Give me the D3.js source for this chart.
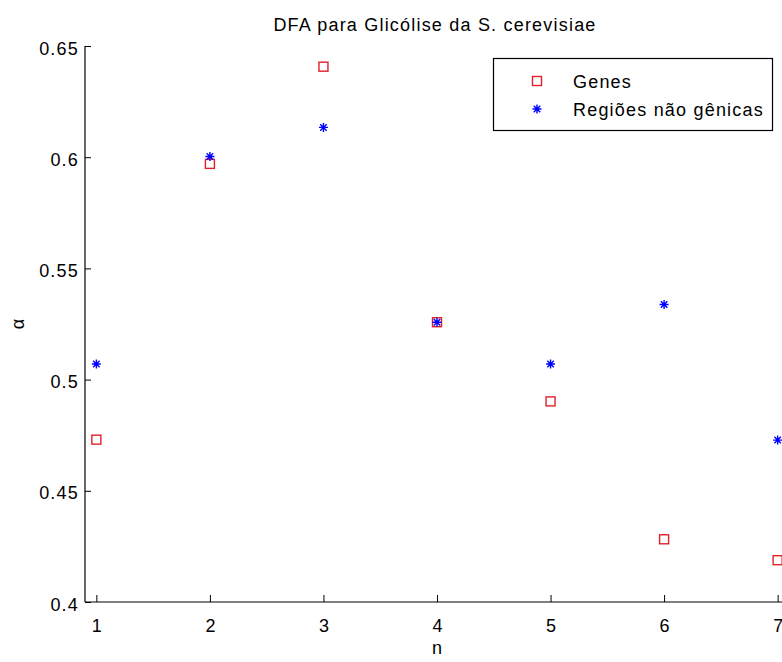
<!DOCTYPE html>
<html>
<head>
<meta charset="utf-8">
<script src="https://cdn.jsdelivr.net/npm/d3@7"></script>
<style>
  html, body { margin: 0; padding: 0; background: #fff; }
  svg { display: block; }
  text { font-family: "Liberation Sans", Arial, sans-serif; fill: #000; }
</style>
</head>
<body>
<svg id="chart" width="782" height="662"></svg>
<script>
const nValues = [1, 2, 3, 4, 5, 6, 7];
const genes = [0.473, 0.597, 0.6407, 0.5258, 0.4902, 0.4282, 0.4188];
const naoGenicas = [0.507, 0.6003, 0.6134, 0.5258, 0.507, 0.5338, 0.4728];
const xTicks = [1, 2, 3, 4, 5, 6, 7];
const yTicks = [0.4, 0.45, 0.5, 0.55, 0.6, 0.65];
const yTickLabels = ["0.4", "0.45", "0.5", "0.55", "0.6", "0.65"];
const title = "DFA para Glicólise da S. cerevisiae";
const seriesNames = ["Genes", "Regiões não gênicas"];

const FS = 18, LS = 1.2;
const svg = d3.select("#chart");
const plotLeft = 85, plotRight = 789, plotTop = 46, plotBottom = 602;

const x = d3.scaleLinear().domain([0.9, 7.1]).range([plotLeft, plotRight]);
const y = d3.scaleLinear().domain([0.4, 0.65]).range([plotBottom, plotTop]);

// axes lines
svg.append("line").attr("x1", plotLeft).attr("x2", plotLeft).attr("y1", plotTop).attr("y2", plotBottom)
  .attr("stroke", "#000").attr("stroke-width", 1.2);
svg.append("line").attr("x1", plotLeft).attr("x2", plotRight).attr("y1", plotBottom).attr("y2", plotBottom)
  .attr("stroke", "#000").attr("stroke-width", 1.2);

// y ticks
const yAxis = d3.axisLeft(y).tickValues(yTicks).tickSize(-6).tickPadding(6)
  .tickFormat((d, i) => yTickLabels[i]);
const gy = svg.append("g").attr("transform", `translate(${plotLeft},0)`).call(yAxis);
gy.select(".domain").remove();
gy.selectAll(".tick line").attr("stroke", "#000");
gy.selectAll(".tick text").attr("font-size", FS).attr("letter-spacing", LS).attr("dy", "0.45em")
  .attr("font-family", "Liberation Sans, Arial, sans-serif");

// x ticks
const xAxis = d3.axisBottom(x).tickValues(xTicks).tickSize(-7).tickPadding(17)
  .tickFormat(d3.format("d"));
const gx = svg.append("g").attr("transform", `translate(0,${plotBottom})`).call(xAxis);
gx.select(".domain").remove();
gx.selectAll(".tick line").attr("stroke", "#000");
gx.selectAll(".tick text").attr("font-size", FS).attr("font-family", "Liberation Sans, Arial, sans-serif");

// title
svg.append("text").attr("x", 435).attr("y", 31).attr("text-anchor", "middle")
  .attr("font-size", FS).attr("letter-spacing", LS).text(title);
// x label
svg.append("text").attr("x", 437).attr("y", 654).attr("text-anchor", "middle")
  .attr("font-size", FS).text("n");
// y label
svg.append("text").attr("transform", `translate(24,${(plotTop + plotBottom) / 2}) rotate(-90)`)
  .attr("text-anchor", "middle").attr("font-size", FS).text("α");

const red = "#e0202a", blue = "#0000ff";
function square(g, cx, cy, s) {
  g.append("rect").attr("x", cx - s / 2).attr("y", cy - s / 2).attr("width", s).attr("height", s)
    .attr("fill", "none").attr("stroke", red).attr("stroke-width", 1.4);
}
function star(g, cx, cy, r) {
  const d = r * 0.72;
  const p = `M${cx - r},${cy}L${cx + r},${cy}M${cx},${cy - r}L${cx},${cy + r}` +
    `M${cx - d},${cy - d}L${cx + d},${cy + d}M${cx - d},${cy + d}L${cx + d},${cy - d}`;
  g.append("path").attr("d", p).attr("stroke", blue).attr("stroke-width", 1.4).attr("fill", "none");
}

const marks = svg.append("g");
nValues.forEach((n, i) => square(marks, x(n), y(genes[i]), 9));
nValues.forEach((n, i) => star(marks, x(n), y(naoGenicas[i]), 4.5));

// legend
const lg = svg.append("g");
lg.append("rect").attr("x", 493.5).attr("y", 58.5).attr("width", 279).attr("height", 72)
  .attr("fill", "#fff").attr("stroke", "#000").attr("stroke-width", 1.2);
square(lg, 537, 81, 9);
star(lg, 537, 109, 4.5);
lg.append("text").attr("x", 573).attr("y", 88).attr("font-size", FS).attr("letter-spacing", LS).text(seriesNames[0]);
lg.append("text").attr("x", 573).attr("y", 116).attr("font-size", FS).attr("letter-spacing", LS).text(seriesNames[1]);
</script>
</body>
</html>
